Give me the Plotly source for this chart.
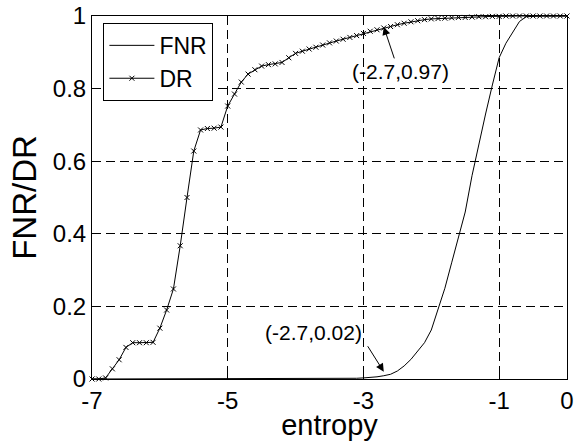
import numpy as np
import plotly.graph_objects as go

# entropy grid (step 0.1, from -7 to 0)
entropy = [round(-7 + 0.1 * i, 1) for i in range(71)]

dr = [0.000, 0.000, 0.003, 0.028, 0.053, 0.087, 0.100, 0.100, 0.100, 0.101,
      0.140, 0.190, 0.248, 0.367, 0.500, 0.628, 0.686, 0.690, 0.691, 0.694,
      0.752, 0.785, 0.818, 0.840, 0.852, 0.862, 0.866, 0.868, 0.872, 0.885,
      0.897, 0.903, 0.909, 0.914, 0.920, 0.926, 0.931, 0.936, 0.941, 0.946,
      0.952, 0.958, 0.962, 0.967, 0.971, 0.976, 0.980, 0.984, 0.987, 0.990,
      0.992, 0.993, 0.994, 0.995, 0.996, 0.996, 0.997, 0.998, 0.998, 0.999,
      0.999, 1.000, 1.000, 1.000, 1.000, 1.000, 1.000, 1.000, 1.000, 1.000,
      1.000]

fnr = [0.0] * 35 + [
    0.0005, 0.001, 0.001, 0.0015, 0.002, 0.003, 0.004, 0.006, 0.009, 0.013,
    0.022, 0.036, 0.054, 0.076, 0.100, 0.135, 0.190, 0.250, 0.320, 0.390,
    0.460, 0.560, 0.650, 0.730, 0.810, 0.885, 0.925, 0.955, 0.985, 0.998,
    1.0, 1.0, 1.0, 1.0, 1.0, 1.0]

x_ticks = [-7, -5, -3, -1, 0]
x_ticktext = ["-7", "-5", "-3", "-1", "0"]
y_ticks = [0, 0.2, 0.4, 0.6, 0.8, 1]
y_ticktext = ["0", "0.2", "0.4", "0.6", "0.8", "1"]

ann_points = [(-2.7, 0.97), (-2.7, 0.02)]
ann_labels = ["(-2.7,0.97)", "(-2.7,0.02)"]

FONT = "Liberation Sans, Arial, sans-serif"

fig = go.Figure()
fig.add_trace(go.Scatter(x=entropy, y=fnr, mode="lines", name="FNR",
                         line=dict(color="black", width=1), cliponaxis=False))
fig.add_trace(go.Scatter(x=entropy, y=dr, mode="lines+markers", name="DR",
                         line=dict(color="black", width=1),
                         marker=dict(symbol="x-thin", size=5,
                                     line=dict(color="black", width=1)),
                         cliponaxis=False))

grid = dict(showgrid=True, gridcolor="black", gridwidth=1, griddash="9px,5px")

fig.update_xaxes(range=[-7, 0], tickvals=x_ticks, ticktext=x_ticktext,
                 showline=True, mirror=True, linecolor="black", linewidth=1,
                 ticks="inside", ticklen=4, tickcolor="black", zeroline=False,
                 automargin=False,
                 tickfont=dict(size=24, color="black", family=FONT),
                 title=dict(text="entropy", font=dict(size=29, color="black", family=FONT),
                            standoff=0),
                 **grid)
fig.update_yaxes(range=[0, 1], tickvals=y_ticks, ticktext=y_ticktext,
                 showline=True, mirror=True, linecolor="black", linewidth=1,
                 ticks="inside", ticklen=4, tickcolor="black", zeroline=False,
                 automargin=False,
                 tickfont=dict(size=24, color="black", family=FONT),
                 title=dict(text="FNR/DR", font=dict(size=33, color="black", family=FONT),
                            standoff=6),
                 **grid)

# arrows (tail offsets in px) and labels
arrow_offsets = [(11, 33), (-17, -27)]
text_pos = [(-2.46, 0.846), (-3.73, 0.129)]
for (px, py), (ax, ay), (tx, ty), lab in zip(ann_points, arrow_offsets, text_pos, ann_labels):
    fig.add_annotation(x=px, y=py, text="", showarrow=True, ax=ax, ay=ay,
                       arrowhead=2, arrowsize=1.6, arrowwidth=1, arrowcolor="black")
    fig.add_annotation(x=tx, y=ty, text=lab, showarrow=False,
                       font=dict(size=21, color="black", family=FONT))

fig.update_layout(
    width=578, height=441,
    margin=dict(l=92, r=11, t=16, b=62),
    paper_bgcolor="white", plot_bgcolor="white",
    font=dict(family=FONT, color="black"),
    legend=dict(x=0.024, y=0.981, xanchor="left", yanchor="top",
                bordercolor="black", borderwidth=1, bgcolor="white",
                font=dict(size=23, color="black", family=FONT),
                tracegroupgap=0, itemwidth=45),
)

fig.write_html("out.html", config={"displayModeBar": False},
               post_script="document.body.style.margin='0px';document.body.style.overflow='hidden';")
